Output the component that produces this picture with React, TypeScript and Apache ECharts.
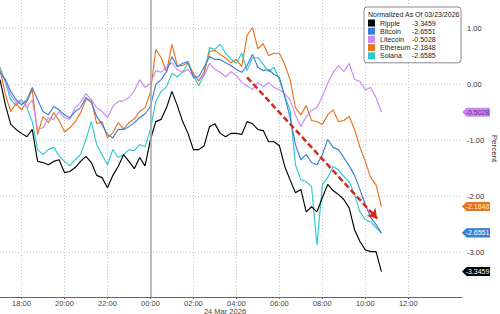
import React, { useEffect, useRef } from "react";
import * as echarts from "echarts";

// Hours relative to 24 Mar 2026 00:00 (first sample is 23 Mar 17:00)
const START_HOUR = -7;
const STEP_HOURS = 0.25;

const RIPPLE = [
  0.08, -0.37, -0.72, -0.81, -0.88, -0.94, -0.81, -1.38, -1.4, -1.44,
  -1.38, -1.35, -1.58, -1.56, -1.49, -1.38, -1.29, -1.4, -1.63, -1.67,
  -1.85, -1.63, -1.47, -1.26, -1.38, -1.51, -1.31, -1.46, -0.99, -0.67,
  -0.63, -0.42, -0.13, -0.38, -0.67, -0.88, -1.17, -1.17, -1.1, -0.76,
  -0.71, -0.88, -0.94, -0.88, -0.88, -0.9, -0.67, -0.71, -0.81, -0.83,
  -1.03, -1.03, -1.1, -1.47, -1.71, -1.94, -1.88, -2.28, -2.19, -2.28,
  -2.03, -1.79, -1.9, -1.97, -2.06, -2.21, -2.6, -2.81, -2.96, -2.99,
  -2.99, -3.3459,
];
const BITCOIN = [
  0.22, 0.08, -0.13, -0.28, -0.37, -0.28, -0.06, -0.28, -0.49, -0.55,
  -0.4, -0.46, -0.55, -0.6, -0.49, -0.42, -0.24, -0.33, -0.58, -0.72,
  -0.9, -0.96, -0.81, -0.81, -0.76, -0.69, -0.6, -0.53, -0.4, -0.01,
  0.08, 0.22, 0.49, 0.31, 0.37, 0.4, 0.12, 0.13, 0.3, 0.49,
  0.44, 0.44, 0.38, 0.33, 0.26, 0.21, 0.33, 0.53, 0.3, 0.24,
  0.26, 0.17, 0.12, -0.22, -0.6, -1.08, -1.35, -1.26, -1.4, -1.44,
  -1.26, -0.99, -1.13, -1.17, -1.31, -1.46, -1.63, -1.88, -2.15, -2.38,
  -2.51, -2.6551,
];
const LITECOIN = [
  0.22, 0.05, -0.19, -0.33, -0.28, -0.42, -0.28, -0.81, -0.78, -0.6,
  -0.63, -0.49, -0.6, -0.63, -0.42, -0.33, -0.17, -0.28, -0.42, -0.49,
  -0.6, -0.4, -0.31, -0.3, -0.24, -0.12, 0.08, -0.06, 0.01, 0.24,
  0.21, 0.31, 0.38, 0.26, 0.21, 0.26, 0.13, 0.08, 0.15, 0.37,
  0.26, 0.21, 0.13, 0.22, 0.15, 0.03, -0.03, -0.1, 0.03, -0.05,
  0.03, -0.06, -0.1, -0.17, -0.28, -0.55, -0.76, -0.58, -0.47, -0.42,
  -0.22, 0.01, 0.21, 0.33, 0.22, 0.37, 0.08, 0.05, -0.1, -0.06,
  -0.24, -0.5028,
];
const ETHEREUM = [
  0.26, -0.19, -0.49, -0.35, -0.46, -0.31, -0.1, -0.9, -0.58, -0.69,
  -0.51, -0.65, -0.85, -0.78, -0.67, -0.51, -0.28, -0.28, -0.71, -0.67,
  -0.96, -0.87, -0.69, -0.8, -0.69, -0.62, -0.49, -0.42, -0.15, 0.62,
  0.47, 0.22, 0.71, 0.33, 0.33, 0.38, 0.19, 0.05, 0.22, 0.58,
  0.6, 0.53, 0.46, 0.38, 0.44, 0.31, 0.87, 1.01, 0.63, 0.72,
  0.51, 0.55, 0.55, 0.35, 0.08, -0.42, -0.55, -0.38, -0.65, -0.67,
  -0.72, -0.55, -0.46, -0.67, -0.65, -0.58, -0.81, -1.13, -1.38, -1.67,
  -1.8, -2.1848,
];
const SOLANA = [
  0.3, 0.03, -0.28, -0.38, -0.28, -0.42, -0.67, -1.17, -1.26, -1.17,
  -1.13, -1.28, -1.38, -1.46, -1.35, -1.26, -0.99, -0.67, -1.08, -1.26,
  -1.44, -1.17, -1.31, -1.26, -1.17, -1.19, -1.08, -1.12, -0.81, -0.31,
  -0.13, -0.05, 0.19, 0.13, 0.21, 0.37, 0.15, -0.03, 0.17, 0.65,
  0.62, 0.71, 0.55, 0.44, 0.37, 0.55, 0.24, 0.47, 0.47, 0.35,
  0.22, 0.3, 0.08, -0.22, -0.46, -1.44, -1.71, -1.74, -1.83, -2.87,
  -1.8, -1.67, -1.47, -1.53, -1.65, -1.74, -1.97, -2.28, -2.42, -2.46,
  -2.56, -2.6585,
];

const NAMES = ["Ripple", "Bitcoin", "Litecoin", "Ethereum", "Solana"];
const VALUES: Record<string, number[]> = {
  Ripple: RIPPLE,
  Bitcoin: BITCOIN,
  Litecoin: LITECOIN,
  Ethereum: ETHEREUM,
  Solana: SOLANA,
};
const COLORS: Record<string, string> = {
  Ripple: "#000000",
  Bitcoin: "#3a7fd5",
  Litecoin: "#c98af0",
  Ethereum: "#e8731c",
  Solana: "#2cc8d2",
};
const TAG_TEXT: Record<string, string> = {
  Ripple: "#ffffff",
  Bitcoin: "#ffffff",
  Litecoin: "#5b2386",
  Ethereum: "#ffe3cc",
  Solana: "#ffffff",
};
// stacking of the end-of-line value tags (Bitcoin covers Solana as in the reference)
const TAG_Z: Record<string, number> = {
  Solana: 5,
  Ethereum: 6,
  Litecoin: 6,
  Bitcoin: 7,
  Ripple: 7,
};
const DRAW_ORDER = ["Solana", "Ethereum", "Litecoin", "Bitcoin", "Ripple"];

const X_MIN = -7;
const X_MAX = 14.5;
const X_LABEL_HOURS = [-6, -4, -2, 0, 2, 4, 6, 8, 10, 12];
const MIDNIGHT = 0;
const Y_MIN = -3.8;
const Y_MAX = 1.5;
const Y_TICKS = [-3, -2, -1, 0, 1];
const ARROW_FROM = [4.5, 0.12];
const ARROW_TO = [10.55, -2.4];
const TITLE = "Normalized As Of 03/23/2026";
const DATE_LABEL = "24 Mar 2026";

const FONT = "'Liberation Sans', Arial, sans-serif";

const times = RIPPLE.map((_, i) => START_HOUR + i * STEP_HOURS);

function hourLabel(h: number): string {
  const hh = (((Math.round(h) % 24) + 24) % 24).toString().padStart(2, "0");
  return hh + ":00";
}

export default function App() {
  const ref = useRef<HTMLDivElement>(null);

  useEffect(() => {
    if (!ref.current) return;
    const chart = echarts.init(ref.current, undefined, { renderer: "svg" });

    const series: any[] = DRAW_ORDER.map((name) => {
      const vals = VALUES[name];
      const last = vals[vals.length - 1];
      const s: any = {
        name,
        type: "line",
        data: times.map((t, i) => [t, vals[i]]),
        showSymbol: false,
        symbol: "none",
        lineStyle: { width: 1.15, color: COLORS[name] },
        itemStyle: { color: COLORS[name] },
        emphasis: { disabled: true },
        markPoint: {
          silent: true,
          z: TAG_Z[name],
          symbol: "path://M0,5L5,0H30V10H5Z",
          symbolSize: [28, 9],
          symbolOffset: [14, 0],
          itemStyle: { color: COLORS[name] },
          label: {
            show: true,
            position: "inside",
            offset: [1.5, 0],
            formatter: last.toFixed(4),
            fontSize: 7,
            fontFamily: FONT,
            color: TAG_TEXT[name],
          },
          data: [{ coord: [X_MAX, last], value: last }],
        },
      };
      if (name === "Solana") {
        s.markLine = {
          silent: true,
          symbol: ["none", "none"],
          label: { show: false },
          lineStyle: { color: "#a8a8a8", width: 1.5, type: "solid" },
          data: [[{ coord: [MIDNIGHT, Y_MIN] }, { coord: [MIDNIGHT, Y_MAX] }]],
        };
      }
      if (name === "Ripple") {
        s.markLine = {
          silent: true,
          symbol: ["none", "arrow"],
          symbolSize: 9,
          label: { show: false },
          lineStyle: { color: "#d42a1f", width: 2.5, type: [6, 3] },
          data: [[{ coord: ARROW_FROM }, { coord: ARROW_TO }]],
        };
      }
      return s;
    });

    chart.setOption({
      animation: false,
      backgroundColor: "#ffffff",
      textStyle: { fontFamily: FONT },
      grid: {
        left: 0,
        right: 38,
        top: 0,
        bottom: 17,
        containLabel: false,
        outerBoundsMode: "none",
      },
      xAxis: {
        type: "value",
        min: X_MIN,
        max: X_MAX,
        position: "bottom",
        axisLine: { onZero: false, lineStyle: { color: "#666", width: 1 } },
        axisTick: {
          show: true,
          customValues: X_LABEL_HOURS,
          length: 2,
          lineStyle: { color: "#666" },
        },
        axisLabel: {
          customValues: X_LABEL_HOURS,
          formatter: (v: number) => hourLabel(v),
          fontSize: 7.5,
          color: "#444",
          margin: 2,
          fontFamily: FONT,
        },
        splitLine: { show: true, lineStyle: { color: "#c4c4c4", type: [1, 2], width: 1 } },
      },
      yAxis: {
        type: "value",
        position: "right",
        min: Y_MIN,
        max: Y_MAX,
        axisLine: { show: false, onZero: false },
        axisTick: { show: false, customValues: Y_TICKS },
        axisLabel: {
          customValues: Y_TICKS,
          formatter: (v: number) => v.toFixed(2),
          fontSize: 7.5,
          color: "#333",
          margin: 5,
          fontFamily: FONT,
        },
        splitLine: { show: true, lineStyle: { color: "#c8c8c8", type: [1, 2], width: 1 } },
        name: "Percent",
        nameLocation: "middle",
        nameRotate: -90,
        nameGap: 28,
        nameMoveOverlap: false,
        nameTextStyle: { fontSize: 8, color: "#333", fontFamily: FONT },
      },
      legend: {
        data: NAMES,
        orient: "vertical",
        left: 364,
        top: 7,
        padding: [12, 3, 3, 4],
        backgroundColor: "#ffffff",
        borderColor: "#8a8a8a",
        borderWidth: 1,
        borderRadius: 3,
        icon: "rect",
        itemWidth: 7,
        itemHeight: 7,
        itemGap: 0.2,
        selectedMode: false,
        z: 6,
        formatter: (name: string) => {
          const vals = VALUES[name];
          return `{n|${name}}{v|${vals[vals.length - 1].toFixed(4)}}`;
        },
        textStyle: {
          fontSize: 7,
          lineHeight: 8,
          color: "#222",
          fontFamily: FONT,
          rich: {
            n: { width: 32, fontSize: 7, lineHeight: 8, color: "#222", fontFamily: FONT },
            v: { width: 46, fontSize: 7, lineHeight: 8, color: "#222", fontFamily: FONT },
          },
        },
      },
      graphic: [
        {
          type: "text",
          left: 368,
          top: 11,
          z: 100,
          style: { text: TITLE, fontSize: 7, fill: "#222", fontFamily: FONT },
        },
        {
          type: "text",
          x: 225,
          y: 311,
          z: 100,
          style: {
            text: DATE_LABEL,
            fontSize: 7.5,
            fill: "#444",
            fontFamily: FONT,
            textAlign: "center",
            textVerticalAlign: "middle",
          },
        },
      ],
      series,
    });

    return () => chart.dispose();
  }, []);

  return (
    <div
      ref={ref}
      style={{ position: "fixed", left: 0, top: 0, width: 500, height: 314, background: "#fff" }}
    />
  );
}
